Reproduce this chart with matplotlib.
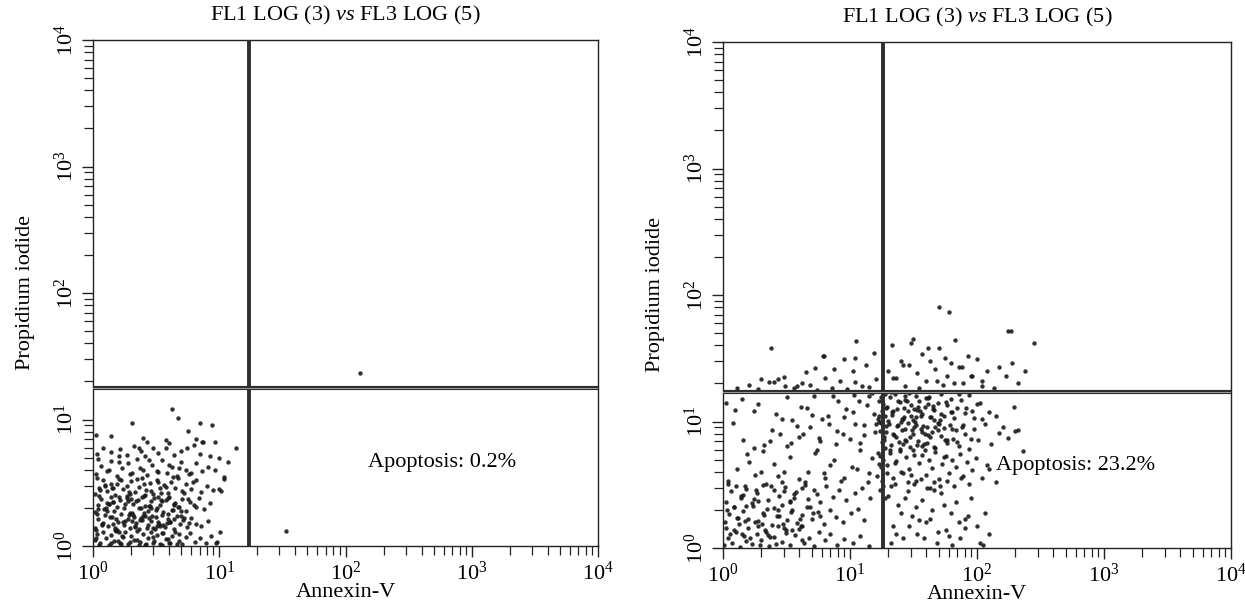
import matplotlib
matplotlib.use("Agg")
import matplotlib.pyplot as plt
from matplotlib.ticker import LogLocator, NullFormatter, FixedLocator
import numpy as np

plt.rcParams['font.family'] = ['Liberation Serif', 'DejaVu Serif']
plt.rcParams['mathtext.fontset'] = 'custom'
plt.rcParams['mathtext.rm'] = 'Liberation Serif'
plt.rcParams['mathtext.it'] = 'Liberation Serif:italic'

# ---------------- data ----------------
title_text = "FL1 LOG (3) $\\mathit{vs}$ FL3 LOG (5)"
x_label = "Annexin-V"
y_label = "Propidium iodide"
decade_ticks = [1, 10, 100, 1000, 10000]
decade_labels = ["$10^{0}$", "$10^{1}$", "$10^{2}$", "$10^{3}$", "$10^{4}$"]

# gate positions (Annexin-V, PI)
ctrl_gate = (17.3, 17.8)
treat_gate = (18.3, 17.2)
ctrl_text = "Apoptosis: 0.2%"
treat_text = "Apoptosis: 23.2%"
ctrl_text_pos = (152, 4.6)
treat_text_pos = (140, 4.5)

# control panel events, by region
c1_ann = [1.03,1.08,1.14,1.2,1.27,1.33,1.4,1.48,1.55,1.63,1.72,1.8,1.9,2.0,2.1,2.22,2.35,2.48,2.6,2.75,
          2.9,3.05,3.2,3.4,3.6,3.8,4.0,4.25,4.5,4.8,5.1,5.5,5.9,6.4,7.0,7.8,8.6,9.5,1.12,1.38,
          1.66,1.95,2.3,2.65,3.0,3.5,4.1,4.6,1.05,1.5]
c1_pi = [1.12,1.25,1.05,1.3,1.15,1.02,1.22,1.1,1.33,1.06,1.18,1.28,1.04,1.2,1.12,1.31,1.08,1.24,1.02,1.16,
         1.3,1.1,1.22,1.04,1.27,1.14,1.06,1.2,1.3,1.1,1.03,1.18,1.26,1.08,1.15,1.05,1.2,1.06,1.02,1.05,
         1.03,1.08,1.02,1.04,1.06,1.02,1.05,1.03,1.34,1.35]
c2_ann = [1.04,1.1,1.17,1.25,1.32,1.41,1.5,1.58,1.68,1.77,1.88,1.98,2.1,2.2,2.33,2.45,2.58,2.72,2.86,3.0,
          3.15,3.32,3.5,3.7,3.9,4.1,4.35,4.6,4.9,5.2,5.6,6.0,6.5,7.2,8.1,1.07,1.21,1.36,1.53,1.72,
          1.92,2.15,2.4,2.68,2.95,3.25,3.6,3.95,4.4,5.0,5.8,1.45,2.05,2.8,3.4]
c2_pi = [1.4,1.62,1.5,1.75,1.44,1.68,1.38,1.56,1.78,1.46,1.64,1.4,1.7,1.52,1.36,1.6,1.74,1.47,1.58,1.39,
         1.69,1.5,1.77,1.42,1.63,1.54,1.37,1.72,1.48,1.6,1.41,1.66,1.5,1.44,1.58,1.79,1.52,1.7,1.62,1.55,
         1.76,1.45,1.65,1.38,1.72,1.56,1.46,1.8,1.62,1.74,1.52,1.48,1.58,1.66,1.43]
c3_ann = [1.03,1.09,1.16,1.23,1.3,1.38,1.47,1.56,1.65,1.75,1.86,1.97,2.08,2.2,2.32,2.45,2.6,2.75,2.9,3.06,
          3.22,3.4,3.6,3.8,4.02,4.25,4.5,4.8,5.1,5.45,5.85,6.3,6.9,7.6,8.5,1.12,1.27,1.43,1.6,1.8,
          2.02,2.26,2.52,2.82,3.15,3.5,3.9,4.4,5.0,5.7,6.6,1.35,1.9,2.4,3.3]
c3_pi = [1.85,2.1,2.35,1.95,2.2,2.45,1.9,2.05,2.3,2.0,2.4,1.82,2.15,2.28,1.98,2.42,2.08,1.88,2.25,2.38,
         2.0,2.12,1.86,2.32,2.46,1.94,2.18,2.04,2.36,1.9,2.24,2.1,2.4,1.96,2.2,2.5,2.0,2.22,2.44,2.14,
         1.84,2.3,2.48,2.06,1.92,2.26,2.4,2.1,1.88,2.34,2.02,2.15,2.28,1.98,2.45]
c4_ann = [1.04,1.12,1.2,1.3,1.4,1.5,1.62,1.74,1.86,2.0,2.14,2.3,2.46,2.63,2.82,3.0,3.2,3.42,3.65,3.9,
          4.15,4.45,4.75,5.1,5.5,5.95,6.5,7.2,8.0,9.0,10.0,1.08,1.25,1.45,1.68,1.95,2.25,2.55,2.9,3.3,
          3.8,4.3,5.3,6.2,1.55]
c4_pi = [2.6,2.9,3.3,2.7,3.1,2.55,3.4,2.8,3.0,3.25,2.65,2.95,3.45,2.75,3.15,2.58,3.35,2.85,3.05,2.62,
         3.2,2.9,3.42,2.7,3.1,2.8,3.3,2.66,3.0,2.75,2.8,3.45,3.0,2.85,3.3,2.58,3.38,3.08,2.7,3.22,
         2.92,3.5,2.62,3.18,3.1]
c5_ann = [1.05,1.15,1.28,1.4,1.55,1.7,1.88,2.05,2.25,2.48,2.7,2.95,3.2,3.5,3.85,4.2,4.6,5.0,5.5,6.0,
          6.6,7.3,8.2,9.2,1.1,1.35,1.62,1.95,2.35,2.8,3.3,4.0,4.8,5.8,11.0]
c5_pi = [3.7,4.3,3.9,4.7,3.6,4.1,4.5,3.8,4.9,4.0,3.65,4.4,3.95,4.8,3.75,4.25,3.6,4.6,4.0,3.8,
         4.5,3.9,4.2,4.0,4.9,4.0,4.6,3.7,4.15,4.75,3.85,4.4,4.1,3.7,3.5]
c6_ann = [1.08,1.2,1.4,1.65,1.85,2.1,2.4,2.6,3.0,3.3,3.8,4.0,4.4,5.0,5.6,6.3,7.0,7.5,8.5,10.0,1.6,2.3]
c6_pi = [5.3,6.0,5.5,5.8,5.2,6.2,5.6,5.1,5.9,5.4,6.0,6.5,5.2,5.6,5.9,6.3,5.3,6.6,5.1,5.0,5.1,6.0]
c7_ann = [4.2,2.05,4.7,7.0,8.8,1.05,1.4,2.5,2.7,5.7,7.3,9.3,13.6,11.8,11.0,10.3,10.2,9.6,3.8,6.5,130,34]
c7_pi = [12.2,9.4,10.2,9.4,9.0,7.6,7.4,7.1,6.7,8.1,6.7,6.6,5.9,4.6,3.4,2.7,1.3,1.08,6.9,7.0,23.5,1.32]
# extra dense core of the control population
c8_ann = [1.06,1.18,1.29,1.44,1.61,1.79,2.0,2.23,2.49,2.77,3.09,3.44,3.83,4.27,4.76,5.3,1.13,1.35,1.58,1.85,
          2.17,2.54,2.97,3.47,4.06,4.75,1.24,1.52,1.93,2.37,2.88,3.55,4.35,1.09,1.41,1.7,2.06,2.6,3.2,3.95]
c8_pi = [1.16,1.47,1.88,2.22,1.28,1.58,2.36,1.12,1.72,2.06,1.36,2.62,1.52,1.94,1.24,1.66,2.78,2.14,1.09,2.48,
         1.42,1.82,1.18,2.3,1.55,2.02,3.02,1.31,2.68,1.6,1.98,1.27,2.15,1.95,2.9,1.2,1.76,2.55,1.45,1.14]

# treated panel events, by region
t1_ann = [1.02,1.1,1.18,1.27,1.36,1.47,1.58,1.7,1.84,1.98,2.14,2.3,2.5,2.7,2.92,3.15,3.4,3.7,4.0,4.35,
          4.75,5.2,5.7,6.3,7.0,7.9,9.0,10.5,12,14,1.06,1.22,1.42,1.64,1.9,2.2,2.6,3.0,3.5,4.1]
t1_pi = [1.05,1.2,1.1,1.35,1.02,1.25,1.45,1.08,1.3,1.15,1.4,1.04,1.22,1.48,1.12,1.32,1.06,1.26,1.42,1.1,
         1.2,1.04,1.35,1.15,1.28,1.06,1.18,1.1,1.25,1.04,1.45,1.38,1.3,1.2,1.48,1.33,1.08,1.44,1.38,1.5]
t2_ann = [1.03,1.12,1.22,1.33,1.45,1.58,1.72,1.88,2.05,2.24,2.45,2.68,2.93,3.2,3.5,3.82,4.2,4.6,5.05,5.6,
          6.2,6.9,7.8,8.8,10.2,11.5,13,1.08,1.28,1.52,1.8,2.12,2.5,2.95,3.45,4.05,4.8,5.8]
t2_pi = [1.6,1.85,2.1,1.55,1.95,1.7,2.15,1.62,1.9,2.05,1.52,1.78,2.18,1.66,1.98,1.58,1.82,2.1,1.7,1.94,
         1.56,2.0,1.75,1.6,1.88,2.02,1.65,2.0,1.72,2.16,1.6,1.84,2.06,1.54,1.92,1.68,2.12,1.8]
t3_ann = [1.05,1.15,1.26,1.38,1.52,1.68,1.85,2.05,2.27,2.5,2.78,3.08,3.4,3.78,4.2,4.68,5.2,5.8,6.5,7.3,
          8.2,9.3,11,12.5,14.5,1.1,1.45,1.9,2.4,3.0,3.6,4.4,5.5]
t3_pi = [2.3,2.8,3.1,2.5,2.95,2.25,2.7,3.15,2.4,2.9,2.6,3.05,2.35,2.75,3.0,2.45,2.85,2.3,3.1,2.55,
         2.9,2.4,2.7,3.0,2.5,3.2,2.62,2.35,3.1,2.8,2.5,3.15,2.65]
t4_ann = [1.1,1.3,1.55,1.8,2.1,2.5,2.9,3.4,4.0,4.7,5.5,6.4,7.5,8.8,10.3,12,14,16,
          1.2,1.45,1.75,2.05,2.45,2.9,3.45,4.1,4.85,5.7,6.7,7.9,9.3,11,13,15.5,
          1.05,1.4,1.9,2.6,3.5,4.6,6.0,8.0,10.5,13.5,16.5,
          1.25,1.6,2.2,3.0,4.0,5.3,7.0,9.0,12.0,14.8,17.0,
          1.75,2.35,3.2,4.3,5.8,7.7,10,13,15.8,
          2.0,2.8,3.8,5.0,6.8,9.0,11.8,14.2,16.8,
          1.5,2.7,4.4,6.2,8.5,11.3,13.8,16.2,
          3.2,5.2,7.3,10.8,15]
t4_pi = [3.4,4.2,5.5,3.8,6.5,4.6,3.3,5.2,7.5,4.0,6.0,3.6,5.0,8.0,4.4,6.8,3.9,9.5,
         9.8,7.2,12,5.8,8.6,10.5,6.8,13,9.0,7.4,11,8.4,12.5,9.6,7.8,11.5,
         14,15,13.8,11.5,10.2,12.8,10.5,14.5,11.8,13.5,10.5,
         12.3,4.8,3.2,4.0,3.5,5.6,4.5,3.6,6.0,5.1,4.6,
         6.2,7.0,6.4,7.9,7.0,6.6,7.3,9.3,8.2,
         4.0,8.0,9.2,11.2,9.6,10.8,14.6,16,11,
         3.1,3.7,3.3,3.9,3.4,4.2,3.3,3.7,
         15.5,15.8,16,16.3,16.8]
t5_ann = [17.5,18.2,17.8,18.8,16.8,19.3,17.2,18.5,17.9,19.0,16.5,18.3,17.6,19.6,18.0,17.3,18.7,16.9,19.2,17.7,
          18.4,17.1,18.9,18.1]
t5_pi = [15.5,13.8,12.2,11.0,10.0,9.2,8.4,7.6,6.9,6.2,5.6,5.0,4.4,3.9,3.4,2.9,2.5,14.5,12.8,9.8,
         7.2,5.3,16.5,3.1]
t6_ann = [19.5,20.5,21.5,22.5,23.6,24.8,26,27.3,28.7,30,31.5,33,35,37,39,41,43.5,46,49,52,
          55,58,62,66,70,75,80,86,92,100,110,125,20,22,24,26.5,29,32,36,40,
          45,51,57,64,72,82,95,21,27,34,42]
t6_pi = [13,15.5,11.2,16.5,12.5,14.2,10.5,15.8,12,13.6,10.2,16,14.6,11.5,13,15.2,10.8,12.4,14,16.4,
         11,13.4,15,10.6,12.8,14.8,11.6,16.2,12.2,13.8,10.4,11.8,10.1,12,14.4,10.8,16.8,12.6,11,15.4,
         13.2,10.3,14.2,11.8,16.6,12.8,10.6,17,14.8,12.4,15.6]
t7_ann = [19.2,20.2,21.2,22.2,23.3,24.5,25.7,27,28.4,29.8,31.3,32.9,34.6,36.4,38.3,40.3,42.4,44.6,47,49.5,
          52,55,58,61,64.5,68,72,76,81,87,94,102,115,130,150,175,200,20.7,23,25.2,
          27.8,30.6,33.8,37.3,41,45.5,50,56,63,70,78,90,21.8,26.3,31.8]
t7_pi = [8.2,9.6,6.5,7.8,9.2,6.9,8.6,7.2,9.8,6.3,8.0,9.4,7.0,8.8,6.6,9.1,7.5,8.3,6.2,9.7,
         7.7,8.9,6.8,9.3,7.3,8.5,6.4,9.0,7.9,6.1,8.7,7.1,9.5,6.7,8.1,7.4,8.4,6.0,7.6,9.9,
         7.0,8.5,6.5,9.2,7.8,6.3,9.6,7.1,8.8,6.9,9.4,7.3,8.0,6.6,9.0]
t8_ann = [19.4,20.6,21.9,23.2,24.6,26.1,27.7,29.4,31.2,33.1,35.1,37.2,39.4,41.8,44.3,47,50,53,56.5,60,
          64,68,73,78,84,91,99,110,125,140,22.5,25.4,28.6,32,36,40.5,45.5,51,58,66,
          75,87,21,30,43]
t8_pi = [4.5,5.6,3.6,4.9,5.8,3.9,5.2,4.2,5.9,3.4,4.7,5.4,3.8,5.0,4.3,5.7,3.5,4.6,5.3,3.9,
         5.0,4.4,5.5,3.7,4.8,4.1,5.1,3.6,4.2,3.3,3.2,4.0,3.3,3.2,3.5,3.0,3.3,3.1,3.4,3.1,
         3.6,3.2,3.1,3.8,3.0]
t9_ann = [20,22,24,26,28.5,31,34,37,40,44,48,52,57,62,68,74,81,90,100,112,
          125,21,25,29,33,38,43,49,55,63,72,85,105,23,27,35,46,60,80,115]
t9_pi = [2.6,1.5,2.2,1.2,2.8,1.8,1.3,2.4,1.6,2.0,1.1,2.7,1.4,1.9,2.3,1.2,1.7,2.5,1.5,1.05,
         1.3,1.1,1.9,1.5,2.1,1.2,1.7,1.35,2.2,1.05,1.6,1.8,1.1,1.3,2.5,1.65,2.9,1.25,1.45,1.9]
t10_ann = [1.3,1.6,1.9,2.3,2.7,3.1,3.6,4.2,4.8,5.5,6.3,7.2,8.3,9.5,11,12.5,14,16,
           2.0,2.5,3.0,3.8,4.5,5.3,6.2,7.5,9.0,10.5,11.2,13.3,15.5,2.4,6.1,10.9]
t10_pi = [18.5,19.5,18,20.5,21.5,19,18.3,20,19.5,17.8,22,18.5,21,18.2,20.5,19,18.6,21.5,
          21.5,20.5,22.5,19,24.5,26.5,33,26,31,25,43,28,35,38,33,31.5]
t11_ann = [20,21.5,23,25,27,29,31.5,34,37,40,43,46.5,50,54,58,62,67,72,78,85,
           92,100,110,120,135,150,170,190,210,240,280,22,26,30,35,41,48,56,66,76,
           90,110,175,185,60,50]
t11_pi = [25,40,22,30,19,28,45,24,34,21,30,26,38,19.5,23,29,44,27,20,33,
          23,31,21,25,18.5,27,23,29,20,25,42,22,28,42,18.5,38,21,32,20,27,
          23,19,52,52,74,80]
t12_ann = [105,140,160,195,230,120,210]
t12_pi = [14,11,9,13,5.8,4.5,8.5]
# extra events in the dense apoptotic core
t13_ann = [21.3,23.8,26.6,29.7,33.2,37.1,41.5,46.4,51.9,58.0,24.9,28.1,31.7,35.8,40.4,45.6,22.7,27.2,32.5,38.9,
           30.2,34.4,39.2,44.8,25.6,36.7,42.9,49.2,55.3,62.5]
t13_pi = [11.8,9.4,12.9,7.6,10.9,8.3,13.7,9.0,11.4,7.2,6.1,14.4,5.4,12.2,6.8,10.2,4.7,8.8,9.9,5.9,
          11.1,13.1,7.9,12.6,10.4,6.4,10.8,8.6,5.2,11.9]
t14_ann = [1.14,1.31,1.52,1.76,2.03,2.35,2.72,3.14,3.63,4.2,1.21,1.49,1.83,2.25,2.77,3.4,4.18,5.1,1.38,1.95]
t14_pi = [1.3,1.72,1.14,2.45,1.55,1.22,2.0,1.4,2.68,1.16,2.12,1.62,2.85,1.26,1.8,2.32,1.5,1.9,2.58,1.06]

ctrl_ann = c1_ann + c2_ann + c3_ann + c4_ann + c5_ann + c6_ann + c7_ann + c8_ann
ctrl_pi = c1_pi + c2_pi + c3_pi + c4_pi + c5_pi + c6_pi + c7_pi + c8_pi
treat_ann = (t1_ann + t2_ann + t3_ann + t4_ann + t5_ann + t6_ann + t7_ann + t8_ann + t9_ann
             + t10_ann + t11_ann + t12_ann + t13_ann + t14_ann)
treat_pi = (t1_pi + t2_pi + t3_pi + t4_pi + t5_pi + t6_pi + t7_pi + t8_pi + t9_pi
            + t10_pi + t11_pi + t12_pi + t13_pi + t14_pi)

# ---------------- figure ----------------
fig = plt.figure(figsize=(12.45, 6.08), dpi=100)
ax1 = fig.add_axes([93/1245, 1-546/608, 505/1245, 506/608])
ax2 = fig.add_axes([723/1245, 1-548/608, 508/1245, 506/608])

FS = 16

def style(ax, xs, ys, gate, txt, txtpos):
    n = min(len(xs), len(ys))
    ax.set_xscale('log')
    ax.set_yscale('log')
    ax.set_xlim(1, 1e4)
    ax.set_ylim(1, 1e4)
    ax.scatter(xs[:n], ys[:n], s=10, c='#1a1a1a', linewidths=0, alpha=0.9, zorder=3)
    gx, gy = gate
    ax.axvline(gx, color='#2e2e2e', lw=2.8, zorder=4)
    ax.axhline(gy, color='#2e2e2e', lw=3.0, zorder=4)
    ax.axhline(gy, color='#9a9a9a', lw=0.7, zorder=5)
    ax.text(txtpos[0], txtpos[1], txt, fontsize=FS, ha='left', va='center', zorder=6)
    ax.set_title(title_text, fontsize=FS, pad=14)
    ax.set_xlabel(x_label, fontsize=FS, labelpad=-1)
    ax.set_ylabel(y_label, fontsize=FS, labelpad=14)
    ax.xaxis.set_major_locator(FixedLocator(decade_ticks))
    ax.yaxis.set_major_locator(FixedLocator(decade_ticks))
    ax.set_xticklabels(decade_labels)
    ax.set_yticklabels(decade_labels, rotation=90, va='center')
    ax.xaxis.set_minor_locator(LogLocator(base=10, subs=np.arange(2, 10), numticks=20))
    ax.yaxis.set_minor_locator(LogLocator(base=10, subs=np.arange(2, 10), numticks=20))
    ax.xaxis.set_minor_formatter(NullFormatter())
    ax.yaxis.set_minor_formatter(NullFormatter())
    ax.tick_params(which='major', direction='out', length=8, width=1.0, labelsize=FS, color='#222', pad=3)
    ax.tick_params(which='minor', direction='out', length=6.5, width=0.9, color='#222')
    for sp in ax.spines.values():
        sp.set_linewidth(1.0)
        sp.set_color('#222')

style(ax1, ctrl_ann, ctrl_pi, ctrl_gate, ctrl_text, ctrl_text_pos)
style(ax2, treat_ann, treat_pi, treat_gate, treat_text, treat_text_pos)

fig.savefig("out.png", dpi=100)
